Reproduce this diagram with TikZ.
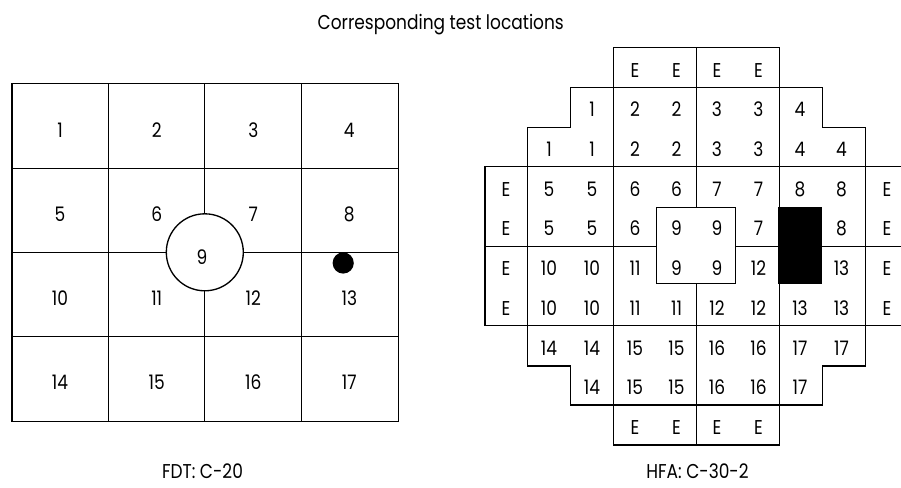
\documentclass[tikz,border=0pt]{standalone}
\usepackage{fontspec}
\setmainfont{Poppins}[FakeStretch=0.85]
\tikzset{>=stealth}
\colorlet{penColor}{black}
\tikzset{
  grid line/.style={penColor,line width=1pt},
  cell label/.style={anchor=base,inner sep=0pt,font=\fontsize{15}{17}\selectfont},
}

\begin{document}
\begin{tikzpicture}[x=0.75pt,y=-0.75pt]
      \useasboundingbox (0,0) rectangle (901,487);
      \clip (0,0) rectangle (901,487);
      \node [cell label] (title) at (440.8,29.3) {Corresponding test locations};
      % FDT: C-20
      \draw [grid line] (12,83.5) rectangle (398.3,421.7);
      \draw [grid line] (12,168.7) -- (398.3,168.7) (12,336.7) -- (398.3,336.7);
      \draw [grid line] (108.7,83.5) -- (108.7,421.7) (301.7,83.5) -- (301.7,421.7);
      \node [grid line,draw,circle,inner sep=0pt,minimum size=57.75pt] (c9) at (204.8,252.3) {};
      \draw [grid line] (204.8,83.5) -- (c9.north) (c9.south) -- (204.8,421.7);
      \draw [grid line] (12,252.3) -- (c9.west) (c9.east) -- (398.3,252.3);
      \node [circle,fill=penColor,inner sep=0pt,minimum size=15.9pt] (spot) at (343.2,263) {};
      \foreach \t/\x/\y in {1/60/137.7,2/156.7/137.7,3/253.3/137.7,4/349.3/137.7,
          5/60/221.7,6/156.7/221.7,7/253.3/221.7,8/349.3/221.7,9/202/264,
          10/60/305.7,11/156.7/305.7,12/253.3/305.7,13/349.3/305.7,
          14/60/389.3,15/156.7/389.3,16/253.3/389.3,17/349.3/389.3}
        \node [cell label] (f\t) at (\x,\y) {\t};
      \node [cell label] (fdt) at (202.5,478) {FDT: C-20};
      % HFA: C-30-2
      \draw [grid line] (613.7,47.7) -- (779.3,47.7) -- (779.3,87.7) -- (822.3,87.7)
        -- (822.3,127.7) -- (865.7,127.7) -- (865.7,166.7) -- (908,166.7)
        -- (908,325.7) -- (865.7,325.7) -- (865.7,366) -- (822.3,366)
        -- (822.3,405) -- (779.3,405) -- (779.3,445) -- (613.7,445)
        -- (613.7,405) -- (570.7,405) -- (570.7,366) -- (527.3,366)
        -- (527.3,325.7) -- (485,325.7) -- (485,166.7) -- (527.3,166.7)
        -- (527.3,127.7) -- (570.7,127.7) -- (570.7,87.7) -- (613.7,87.7) -- cycle;
      \draw [grid line] (613.7,87.7) -- (613.7,405) (779.3,87.7) -- (779.3,405)
        (527.3,166.7) -- (527.3,325.7) (865.7,166.7) -- (865.7,325.7)
        (696.7,47.7) -- (696.7,207.3) (696.7,283.3) -- (696.7,445);
      \draw [grid line] (613.7,87.7) -- (779.3,87.7) (613.7,405) -- (779.3,405)
        (527.3,166.7) -- (865.7,166.7) (527.3,325.7) -- (865.7,325.7)
        (485,246.7) -- (656.7,246.7) (735.7,246.7) -- (778.3,246.7) (821.7,246.7) -- (908,246.7);
      \draw [grid line,fill=white] (656.7,207.3) rectangle (735.7,283.3);
      \fill [penColor] (778.3,206.7) rectangle (821.7,284.3);
      \foreach \r/\c/\labels in {0/3/{E,E,E,E},1/2/{1,2,2,3,3,4},2/1/{1,1,2,2,3,3,4,4},
          3/0/{E,5,5,6,6,7,7,8,8,E},4/0/{E,5,5,6,9,9,7},4/8/{8,E},
          5/0/{E,10,10,11,9,9,12},5/8/{13,E},6/0/{E,10,10,11,11,12,12,13,13,E},
          7/1/{14,14,15,15,16,16,17,17},8/2/{14,15,15,16,16,17},9/3/{E,E,E,E}}
        \foreach \t [count=\k from \c] in \labels {
          \pgfmathsetmacro\xx{{506,549,592,635,676.5,717,758.5,800,841.5,887}[\k]}
          \node [cell label] (h-\r-\k) at (\xx,{77+39.73*\r}) {\t};
        }
      \node [cell label] (hfa) at (697.5,478) {HFA: C-30-2};
    \end{tikzpicture}
\end{document}
